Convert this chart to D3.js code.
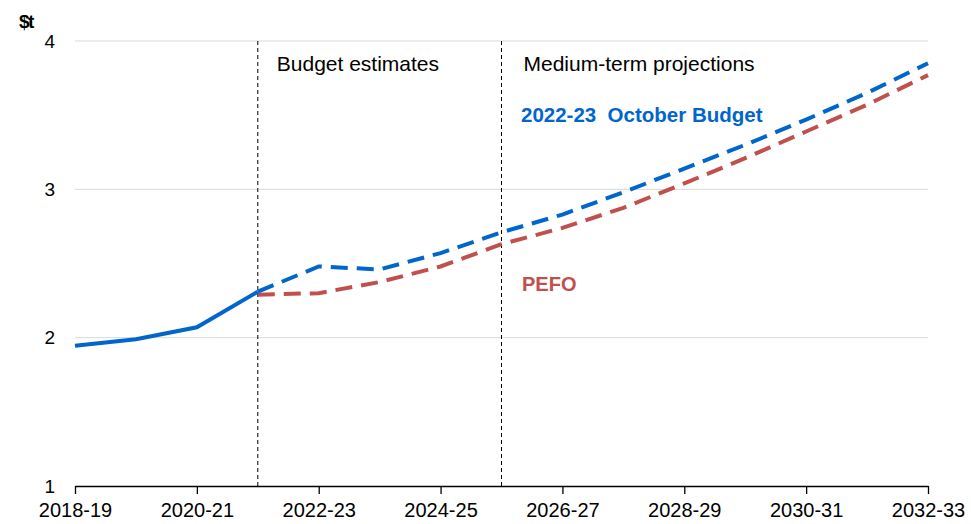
<!DOCTYPE html>
<html>
<head>
<meta charset="utf-8">
<script src="https://cdn.jsdelivr.net/npm/d3@7"></script>
<style>
  body { margin: 0; background: #fff; }
  svg { display: block; font-family: "Liberation Sans", Arial, sans-serif; }
  text { white-space: pre; }
</style>
</head>
<body>
<div id="chart"></div>
<script>
'use strict';

var years = ['2018-19', '2019-20', '2020-21', '2021-22', '2022-23', '2023-24', '2024-25',
    '2025-26', '2026-27', '2027-28', '2028-29', '2029-30', '2030-31', '2031-32', '2032-33'];
var tickYears = ['2018-19', '2020-21', '2022-23', '2024-25', '2026-27', '2028-29', '2030-31', '2032-33'];
var yTicks = [1, 2, 3, 4];

// actuals up to 2021-22, then the two projections
var actual = [1.945, 1.99, 2.07, 2.31];
var octoberBudget = [null, null, null, 2.31, 2.48, 2.46, 2.57, 2.71, 2.83, 2.98, 3.14, 3.30, 3.47, 3.65, 3.85];
var pefo = [null, null, null, 2.29, 2.30, 2.375, 2.48, 2.63, 2.74, 2.875, 3.04, 3.21, 3.39, 3.57, 3.77];

var dividers = ['2021-22', '2025-26'];

var width = 971;
var height = 524;
var margin = { top: 41, right: 43, bottom: 38, left: 75 };

var blue = '#0066cc';
var red = '#c0504d';

var svg = d3.select('#chart').append('svg')
    .attr('width', width)
    .attr('height', height);

var x = d3.scalePoint()
    .domain(years)
    .range([margin.left, width - margin.right]);

var y = d3.scaleLinear()
    .domain([1, 4])
    .range([height - margin.bottom, margin.top]);

// gridlines
svg.append('g')
    .selectAll('line')
    .data(yTicks.slice(1))
    .enter().append('line')
    .attr('x1', margin.left)
    .attr('x2', width - margin.right)
    .attr('y1', function (d) { return y(d); })
    .attr('y2', function (d) { return y(d); })
    .attr('stroke', '#d9d9d9')
    .attr('stroke-width', 1);

// y labels
svg.append('g')
    .selectAll('text')
    .data(yTicks)
    .enter().append('text')
    .attr('x', 55)
    .attr('y', function (d) { return y(d); })
    .attr('dy', '0.35em')
    .attr('text-anchor', 'end')
    .attr('font-size', 19)
    .attr('fill', '#000')
    .text(function (d) { return d; });

svg.append('text')
    .attr('x', 19)
    .attr('y', 28)
    .attr('font-size', 19)
    .attr('font-weight', 'bold')
    .attr('letter-spacing', -1.5)
    .text('$t');

// x axis
var xAxis = d3.axisBottom(x)
    .tickValues(tickYears)
    .tickSize(8)
    .tickSizeOuter(0);

var xg = svg.append('g')
    .attr('transform', 'translate(0,' + y(1) + ')')
    .call(xAxis);

xg.select('.domain').attr('stroke', '#000').attr('stroke-width', 1.3);
xg.selectAll('.tick line').attr('stroke', '#000').attr('stroke-width', 1.3);
xg.selectAll('.tick text')
    .attr('font-family', '"Liberation Sans", Arial, sans-serif')
    .attr('font-size', 20)
    .attr('fill', '#000')
    .attr('dy', '1.0em');

// divider lines
svg.append('g')
    .selectAll('line')
    .data(dividers)
    .enter().append('line')
    .attr('x1', function (d) { return x(d); })
    .attr('x2', function (d) { return x(d); })
    .attr('y1', y(4))
    .attr('y2', y(1))
    .attr('stroke', '#000')
    .attr('stroke-width', 1)
    .attr('stroke-dasharray', '4,3');

svg.append('text')
    .attr('x', x(dividers[0]) + 19)
    .attr('y', 71)
    .attr('font-size', 21)
    .text('Budget estimates');

svg.append('text')
    .attr('x', x(dividers[1]) + 22)
    .attr('y', 71)
    .attr('font-size', 21)
    .text('Medium-term projections');

var line = d3.line()
    .defined(function (d) { return d != null; })
    .x(function (d, i) { return x(years[i]); })
    .y(function (d) { return y(d); });

svg.append('path')
    .datum(pefo)
    .attr('d', line)
    .attr('fill', 'none')
    .attr('stroke', red)
    .attr('stroke-width', 4)
    .attr('stroke-dasharray', '17,9');

svg.append('path')
    .datum(octoberBudget)
    .attr('d', line)
    .attr('fill', 'none')
    .attr('stroke', blue)
    .attr('stroke-width', 4)
    .attr('stroke-dasharray', '17,9');

svg.append('path')
    .datum(actual)
    .attr('d', line)
    .attr('fill', 'none')
    .attr('stroke', blue)
    .attr('stroke-width', 4);

svg.append('text')
    .attr('x', 521)
    .attr('y', 122)
    .attr('font-size', 20.5)
    .attr('font-weight', 'bold')
    .attr('fill', blue)
    .text('2022-23  October Budget');

svg.append('text')
    .attr('x', 522)
    .attr('y', 291)
    .attr('font-size', 20)
    .attr('font-weight', 'bold')
    .attr('fill', red)
    .text('PEFO');
</script>
</body>
</html>
